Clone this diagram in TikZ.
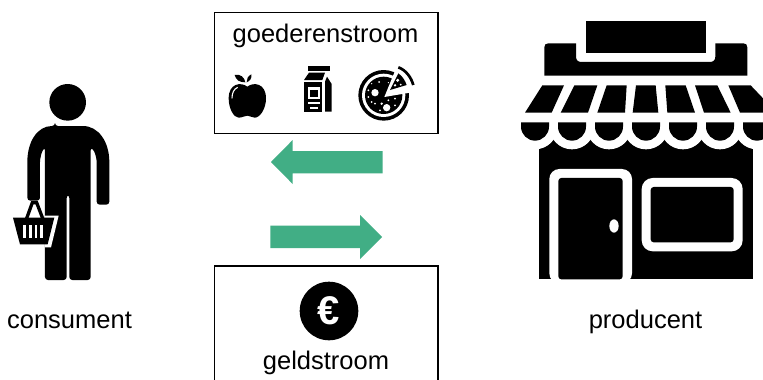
\documentclass[tikz,border=0pt]{standalone}
\usepackage{fontspec}
\setmainfont{Liberation Sans}
\definecolor{flow}{HTML}{41AE85}
\tikzset{
  boxframe/.style={draw=black,line width=1.3pt,fill=white,inner sep=0pt},
  lbl/.style={anchor=base,inner sep=0pt,font=\fontsize{25.5}{30}\selectfont},
  flowarrow/.style={fill=flow,draw=none},
  zoomed/.style={x=0.33333pt,y=-0.33333pt},
  ink/.style={fill=black,draw=none},
  paper/.style={fill=white,draw=none}
}
\begin{document}
\begin{tikzpicture}[x=1pt,y=-1pt]
\useasboundingbox (0,0) rectangle (763,380);
\fill[white] (0,0) rectangle (763,380);
% boxes
\node[boxframe,minimum width=223.5pt,minimum height=121pt] (goods) at (326.25,73) {};
\draw[line width=1.3pt,fill=white] (214.5,382) -- (214.5,266) -- (438,266) -- (438,382);
\node[lbl] (goodslabel) at (325.5,42.7) {goederenstroom};
\node[lbl] (moneylabel) at (326,369.3) {geldstroom};
\node[lbl] (consumerlabel) at (69.5,328) {consument};
\node[lbl] (producerlabel) at (645.5,328) {producent};
% arrows
\fill[flowarrow] (271,162) -- (292.7,140) -- (292.7,151) -- (382.7,151) -- (382.7,173.3) -- (292.7,173.3) -- (292.7,184) -- cycle;
\fill[flowarrow] (382,237) -- (360,215) -- (360,225.7) -- (270.3,225.7) -- (270.3,248) -- (360,248) -- (360,259) -- cycle;
% euro
\fill[black] (329,311) circle [radius=29.3];
\node[inner sep=0pt,text=white,font=\fontsize{40}{40}\selectfont\bfseries] (euro) at (329,310.5) {€};
% person
\begin{scope}[shift={(0,70)},zoomed]
\fill[black] (203,97) circle [radius=55];
\fill[ink,rounded corners=3pt] (165,168) -- (240,168) .. controls (295,168) and (328,215) .. (328,285) -- (328,404) -- (290,404) -- (290,285) .. controls (290,265) and (285,245) .. (272,232) -- (272,630) -- (208,630) -- (208,375) -- (200,375) -- (200,630) -- (135,630) -- (135,232) .. controls (125,245) and (120,265) .. (120,285) -- (120,392) -- (82,392) -- (82,285) .. controls (82,215) and (112,168) .. (165,168) -- cycle;
\fill[paper] (135,437) -- (176,437) -- (153,532) -- (135,532) -- cycle;
\draw[line width=3.3pt,black] (80,445) -- (97,398) -- (110,398) -- (128,445);
\fill[ink] (39,443) -- (163,443) -- (143,523) -- (60,523) -- cycle;
\foreach \s in {70,87,104,121}
  \fill[paper] (\s,465) rectangle ({\s+8},505);
\end{scope}
% shop
\begin{scope}[shift={(510,10)},zoomed]
\fill[ink] (228,32) rectangle (588,128);
\fill[ink] (103,197) -- (103,112) .. controls (103,104) and (107,100) .. (115,100) -- (198,100) -- (198,140) .. controls (198,150) and (204,156) .. (214,156) -- (600,156) .. controls (610,156) and (616,150) .. (616,140) -- (616,100) -- (700,100) .. controls (708,100) and (712,104) .. (712,112) -- (712,197) -- cycle;
\fill[ink] (88,385) rectangle (728,808);
\foreach \c in {75,186,297,408,519,630,741}
  \fill[white] (\c,350) circle [radius=68];
\foreach \a/\b/\e/\d in {97/162/125/45,193/262/234/152,290/350/345/262,378/437/445/368,466/527/555/472,555/622/662/582,655/722/800/690}
  \fill[ink] (\a,226) -- (\b,226) -- (\e,308) -- (\d,308) -- cycle;
\foreach \c in {75,186,297,408,519,630,741}
  \fill[ink] ({\c-42},337) -- ({\c+42},337) -- ({\c+42},350) .. controls ({\c+42},373) and ({\c+23},392) .. (\c,392) .. controls ({\c-23},392) and ({\c-42},373) .. ({\c-42},350) -- cycle;
\fill[paper,rounded corners=10pt] (118,820) -- (118,477) -- (366,477) -- (366,820) -- cycle;
\fill[ink,rounded corners=3pt] (145,808) -- (145,504) -- (338,504) -- (338,808) -- cycle;
\fill[white] (312,648) ellipse [x radius=14,y radius=20];
\fill[paper,rounded corners=11pt] (395,504) rectangle (698,724);
\fill[ink,rounded corners=3pt] (422,531) rectangle (671,697);
\end{scope}
% apple
\begin{scope}[shift={(222,65)},zoomed]
\fill[ink] (76,65) .. controls (95,50) and (132,55) .. (132,100) .. controls (132,130) and (115,158) .. (98,158) .. controls (88,158) and (85,152) .. (76,152) .. controls (67,152) and (62,158) .. (50,158) .. controls (35,158) and (20,130) .. (20,100) .. controls (20,55) and (57,50) .. (76,65) -- cycle;
\fill[ink] (38,30) .. controls (55,25) and (68,38) .. (70,52) .. controls (52,52) and (42,45) .. (38,30) -- cycle;
\fill[ink] (74,52) .. controls (73,42) and (78,33) .. (88,28) .. controls (90,40) and (84,48) .. (74,52) -- cycle;
\draw[white,line width=1.1pt] (30,100) .. controls (30,85) and (35,72) .. (47,67);
\end{scope}
% milk
\begin{scope}[shift={(295,60)},zoomed]
\fill[ink] (40,18) rectangle (105,32);
\fill[ink] (42,38) -- (90,38) -- (82,60) -- (27,60) -- cycle;
\fill[ink] (27,66) rectangle (82,155);
\fill[ink] (96,50) -- (110,72) -- (110,155) -- (90,155) -- (90,65) -- cycle;
\fill[paper] (38,82) rectangle (75,118);
\fill[ink] (44,89) rectangle (69,111);
\fill[paper] (38,126) rectangle (75,131);
\fill[paper] (45,140) rectangle (68,147);
\end{scope}
% pizza
\begin{scope}[shift={(355,62)},zoomed]
\fill[black] (86,100) circle [radius=76];
\fill[white] (86,100) circle [radius=65];
\fill[black] (86,100) circle [radius=56];
\fill[paper] (88,105) -- (122,22) -- (195,10) -- (195,85) -- (165,92) -- cycle;
\fill[ink] (105,84) -- (130,34) .. controls (142,42) and (150,55) .. (155,69) -- cycle;
\draw[black,line width=2.7pt] (130,16) .. controls (152,24) and (168,45) .. (175,69);
\foreach \px/\py/\r in {60/92/11,95/137/11,72/60/3,50/65/2,40/85/3,40/105/3,80/125/4,60/125/3,120/110/3,120/130/3,50/120/3,100/115/3,75/145/3,100/62/2,128/55/5,120/70/4,137/68/3}
  \fill[white] (\px,\py) circle [radius=\r];
\end{scope}
\end{tikzpicture}
\end{document}
